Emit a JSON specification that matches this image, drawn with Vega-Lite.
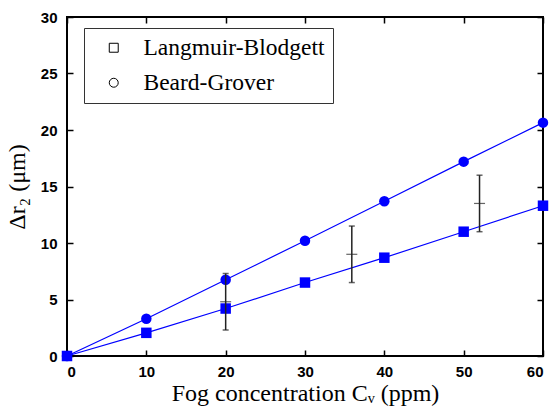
{
  "$schema": "https://vega.github.io/schema/vega-lite/v6.json",
  "width": 476,
  "height": 339,
  "autosize": "none",
  "padding": {"left": 67, "top": 17, "right": 15, "bottom": 51},
  "background": "white",
  "config": {
    "font": "Liberation Serif",
    "style": {"guide-label": {"font": "Liberation Serif"}},
    "view": {"stroke": "black", "strokeWidth": 2},
    "axis": {
      "domain": false,
      "grid": false,
      "tickColor": "black",
      "tickSize": -6,
      "tickWidth": 1.5,
      "labelFont": "Liberation Sans",
      "labelFontWeight": "bold",
      "labelFontSize": 15,
      "labelColor": "black",
      "titleFont": "Liberation Serif",
      "titleFontWeight": "normal",
      "titleFontSize": 24,
      "titleColor": "black"
    },
    "legend": {
      "labelFont": "Liberation Serif",
      "labelFontSize": 23.5,
      "labelColor": "black"
    }
  },
  "datasets": {
    "model": [
      {"C": 0, "dr": 0, "series": "Langmuir-Blodgett"},
      {"C": 10, "dr": 2.05, "series": "Langmuir-Blodgett"},
      {"C": 20, "dr": 4.2, "series": "Langmuir-Blodgett"},
      {"C": 30, "dr": 6.5, "series": "Langmuir-Blodgett"},
      {"C": 40, "dr": 8.7, "series": "Langmuir-Blodgett"},
      {"C": 50, "dr": 11.0, "series": "Langmuir-Blodgett"},
      {"C": 60, "dr": 13.3, "series": "Langmuir-Blodgett"},
      {"C": 0, "dr": 0, "series": "Beard-Grover"},
      {"C": 10, "dr": 3.3, "series": "Beard-Grover"},
      {"C": 20, "dr": 6.75, "series": "Beard-Grover"},
      {"C": 30, "dr": 10.2, "series": "Beard-Grover"},
      {"C": 40, "dr": 13.7, "series": "Beard-Grover"},
      {"C": 50, "dr": 17.2, "series": "Beard-Grover"},
      {"C": 60, "dr": 20.65, "series": "Beard-Grover"}
    ],
    "exp": [
      {"C": 20, "mean": 4.8, "lo": 2.3, "hi": 7.3},
      {"C": 35.9, "mean": 9.0, "lo": 6.5, "hi": 11.5},
      {"C": 52, "mean": 13.5, "lo": 11.0, "hi": 16.0}
    ]
  },
  "layer": [
    {
      "data": {"name": "model"},
      "mark": {"type": "line", "color": "#0000ff", "strokeWidth": 1.2},
      "encoding": {
        "x": {"field": "C", "type": "quantitative", "scale": {"domain": [0, 60], "nice": false, "zero": false},
              "axis": {"orient": "bottom", "values": [0, 10, 20, 30, 40, 50, 60], "labelPadding": 14, "title": "Fog concentration Cᵥ (ppm)", "titlePadding": 2}},
        "y": {"field": "dr", "type": "quantitative", "scale": {"domain": [0, 30], "nice": false},
              "axis": {"orient": "left", "values": [0, 5, 10, 15, 20, 25, 30], "labelPadding": 16, "title": "Δr₂ (μm)", "titlePadding": 11}},
        "detail": {"field": "series"}
      }
    },
    {
      "data": {"name": "model"},
      "mark": {"type": "point", "filled": false, "color": "black", "opacity": 1, "size": 40, "strokeWidth": 1},
      "encoding": {
        "x": {"field": "C", "type": "quantitative", "axis": {"orient": "top", "values": [0, 10, 20, 30, 40, 50, 60], "labels": false, "title": null}},
        "y": {"field": "dr", "type": "quantitative", "axis": {"orient": "right", "values": [0, 5, 10, 15, 20, 25, 30], "labels": false, "title": null}},
        "shape": {"field": "series", "type": "nominal",
                  "scale": {"domain": ["Langmuir-Blodgett", "Beard-Grover"], "range": ["square", "circle"]},
                  "legend": {"orient": "none", "legendX": 17, "legendY": 11, "title": null,
                             "fillColor": "white", "strokeColor": "#333333", "padding": 8,
                             "symbolOffset": 10, "labelOffset": 18, "rowPadding": 10,
                             "labelFont": "Liberation Serif", "labelFontSize": 23.5, "labelColor": "black",
                             "symbolSize": 80, "symbolStrokeWidth": 1, "labelLimit": 400,
                             "labelExpr": "datum.label + '\u00a0\u00a0\u00a0\u00a0\u00a0'",
                             "encode": {"symbols": {"update": {"size": {"value": 80}}},
                                        "labels": {"update": {"font": {"value": "Liberation Serif"}, "fontSize": {"value": 23.5}, "fill": {"value": "black"}}}}}}
      }
    },
    {
      "data": {"name": "model"},
      "mark": {"type": "point", "filled": true, "color": "#0000ff", "opacity": 1, "size": 110},
      "encoding": {
        "x": {"field": "C", "type": "quantitative", "axis": null},
        "y": {"field": "dr", "type": "quantitative", "axis": null},
        "shape": {"field": "series", "type": "nominal", "legend": null}
      }
    },
    {
      "data": {"name": "exp"},
      "mark": {"type": "rule", "color": "#222222", "strokeWidth": 1.5},
      "encoding": {
        "x": {"field": "C", "type": "quantitative", "axis": null},
        "y": {"field": "lo", "type": "quantitative", "axis": null},
        "y2": {"field": "hi"}
      }
    },
    {
      "data": {"name": "exp"},
      "mark": {"type": "tick", "orient": "horizontal", "color": "#222222", "size": 6, "thickness": 1.5},
      "encoding": {
        "x": {"field": "C", "type": "quantitative", "axis": null},
        "y": {"field": "lo", "type": "quantitative", "axis": null}
      }
    },
    {
      "data": {"name": "exp"},
      "mark": {"type": "tick", "orient": "horizontal", "color": "#222222", "size": 6, "thickness": 1.5},
      "encoding": {
        "x": {"field": "C", "type": "quantitative", "axis": null},
        "y": {"field": "hi", "type": "quantitative", "axis": null}
      }
    },
    {
      "data": {"name": "exp"},
      "mark": {"type": "tick", "orient": "horizontal", "color": "#222222", "size": 11, "thickness": 1.2},
      "encoding": {
        "x": {"field": "C", "type": "quantitative", "axis": null},
        "y": {"field": "mean", "type": "quantitative", "axis": null}
      }
    }
  ],
  "resolve": {"axis": {"x": "independent", "y": "independent"}, "legend": {"shape": "independent"}}
}
